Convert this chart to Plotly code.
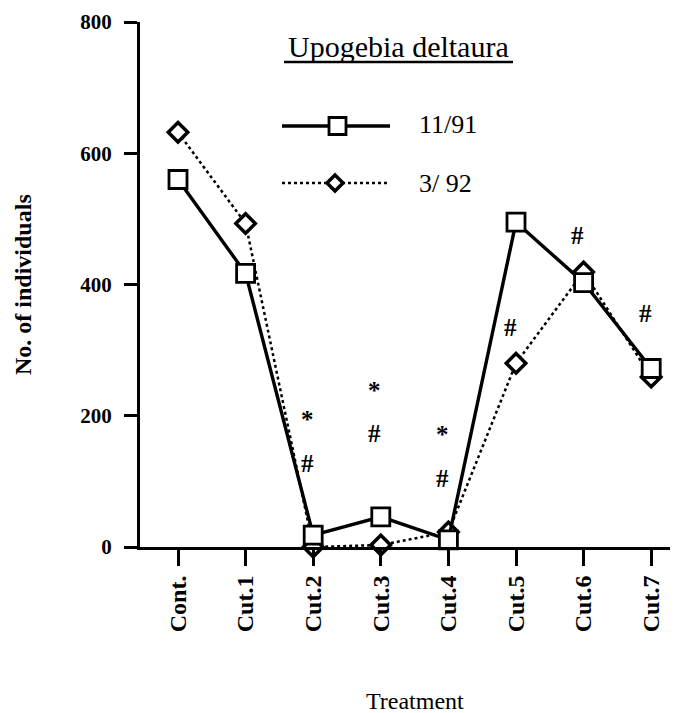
import plotly.graph_objects as go

# ---- data ----
categories = ["Cont.", "Cut.1", "Cut.2", "Cut.3", "Cut.4", "Cut.5", "Cut.6", "Cut.7"]
series_1191 = [560, 417, 18, 46, 11, 495, 403, 272]
series_392 = [632, 493, 0, 3, 23, 280, 419, 259]
y_ticks = [0, 200, 400, 600, 800]
sig_cats = ["Cut.2", "Cut.2", "Cut.3", "Cut.3", "Cut.4", "Cut.4", "Cut.5", "Cut.6", "Cut.7"]
sig_marks = ["*", "#", "*", "#", "*", "#", "#", "#", "#"]
sig_y = [200, 128, 244, 173, 178, 105, 335, 475, 356]
legend_title = "Upogebia deltaura"
legend_names = ["11/91", "3/ 92"]

# The page body has an 8px default margin, so the figure is sized to fit the
# 678x713 window and page coordinates are converted to paper coordinates.
OFF = 8
W, H = 678 - OFF, 713 - OFF
L, R, T = 140 - OFF, 0, 22 - OFF
PLOT_BOTTOM = 547 - OFF
B = H - PLOT_BOTTOM
PW = W - L - R
PH = PLOT_BOTTOM - T


def px(x):
    return (x - OFF - L) / PW


def py(y):
    return (PLOT_BOTTOM - (y - OFF)) / PH


SERIF = "Liberation Serif, Times New Roman, serif"

fig = go.Figure()
fig.add_trace(go.Scatter(
    x=categories, y=series_392, mode="lines+markers", name=legend_names[1],
    line=dict(color="black", width=2.5, dash="dot"),
    marker=dict(symbol="diamond", size=15, color="white",
                line=dict(color="black", width=3.5)),
    cliponaxis=False, showlegend=False))
fig.add_trace(go.Scatter(
    x=categories, y=series_1191, mode="lines+markers", name=legend_names[0],
    line=dict(color="black", width=3.4),
    marker=dict(symbol="square", size=18, color="white",
                line=dict(color="black", width=2.8)),
    cliponaxis=False, showlegend=False))

annotations = []
SIG_SIZE = 25
for c, m, v in zip(sig_cats, sig_marks, sig_y):
    annotations.append(dict(
        x=c, y=v, xref="x", yref="y", text=m, showarrow=False,
        xshift=-6, yshift=(-4 if m == "*" else 0),
        font=dict(family=SERIF, size=SIG_SIZE, color="black", weight="bold")))

# legend (drawn manually)
annotations.append(dict(
    x=px(398), y=py(46), xref="paper", yref="paper", text=legend_title,
    showarrow=False, xanchor="center", yanchor="middle",
    font=dict(family=SERIF, size=30, color="black")))
for name, yy in zip(legend_names, [125, 183]):
    annotations.append(dict(
        x=px(417), y=py(yy), xref="paper", yref="paper", text=name,
        showarrow=False, xanchor="left", yanchor="middle",
        font=dict(family=SERIF, size=26, color="black")))

# axis titles
annotations.append(dict(
    x=px(23), y=py(285), xref="paper", yref="paper", text="No. of individuals",
    showarrow=False, textangle=-90, xanchor="center", yanchor="middle",
    font=dict(family=SERIF, size=24, color="black", weight="bold")))
annotations.append(dict(
    x=px(415), y=py(701), xref="paper", yref="paper", text="Treatment",
    showarrow=False, xanchor="center", yanchor="middle",
    font=dict(family=SERIF, size=24, color="black")))

shapes = [
    # underline of legend title
    dict(type="line", xref="paper", yref="paper", x0=px(284), x1=px(513),
         y0=py(62), y1=py(62), line=dict(color="black", width=2.5)),
    # legend sample 1
    dict(type="line", xref="paper", yref="paper", x0=px(282), x1=px(390),
         y0=py(126), y1=py(126), line=dict(color="black", width=3.4)),
    dict(type="rect", xref="paper", yref="paper", x0=px(329), x1=px(346),
         y0=py(134.5), y1=py(117.5), fillcolor="white",
         line=dict(color="black", width=2.8)),
    # legend sample 2
    dict(type="line", xref="paper", yref="paper", x0=px(282), x1=px(388),
         y0=py(183), y1=py(183), line=dict(color="black", width=2.5, dash="dot")),
    dict(type="path", xref="paper", yref="paper",
         path="M {a},{b} L {c},{d} L {e},{f} L {g},{h} Z".format(
             a=px(327), b=py(183), c=px(335), d=py(175),
             e=px(343), f=py(183), g=px(335), h=py(191)),
         fillcolor="white", line=dict(color="black", width=3.5)),
]

# category i sits at page x = 178 + 67.6 * i
x_lo = (L + OFF - 178) / 67.6
x_hi = x_lo + PW / 67.6

fig.update_layout(
    width=W, height=H,
    margin=dict(l=L, r=R, t=T, b=B, pad=0),
    paper_bgcolor="white", plot_bgcolor="white",
    showlegend=False,
    annotations=annotations, shapes=shapes,
    xaxis=dict(type="category", categoryorder="array", categoryarray=categories,
               range=[x_lo, x_hi], showline=True, linecolor="black", linewidth=3,
               ticks="outside", ticklen=16, tickwidth=3, tickcolor="black",
               ticklabelstandoff=0,
               tickangle=-90, showgrid=False, zeroline=False,
               tickfont=dict(family=SERIF, size=24, color="black", weight="bold")),
    yaxis=dict(range=[0, 800], tickvals=y_ticks, showline=True, linecolor="black",
               linewidth=3, ticks="outside", ticklen=13, tickwidth=3, tickcolor="black",
               ticklabelstandoff=8, showgrid=False, zeroline=False,
               tickfont=dict(family=SERIF, size=21, color="black", weight="bold")),
)

fig.write_html("out.html")
